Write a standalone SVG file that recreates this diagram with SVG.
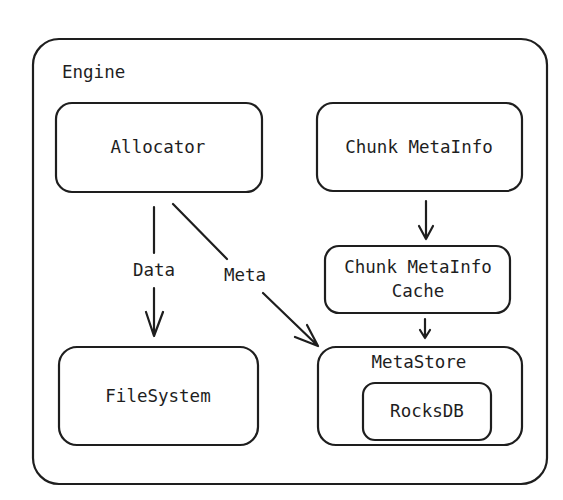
<svg xmlns="http://www.w3.org/2000/svg" width="563" height="500" viewBox="0 0 563 500">
<style>
.box{fill:none;stroke:#1e1e1e;stroke-width:2.2}
.t{font-family:"DejaVu Sans Mono","Liberation Mono",monospace;font-size:17.5px;fill:#1e1e1e;text-anchor:middle}
.ln{fill:none;stroke:#1e1e1e;stroke-width:2.2;stroke-linecap:round;stroke-linejoin:round}
</style>
<rect width="563" height="500" fill="#ffffff"/>
<g id="engine">
<rect class="box" x="33" y="39" width="514" height="445" rx="26"/>
<text class="t" x="62" y="78" style="text-anchor:start">Engine</text>
</g>
<g id="allocator">
<rect class="box" x="56" y="103" width="206" height="89" rx="16"/>
<text class="t" x="158" y="153">Allocator</text>
</g>
<g id="chunk-metainfo">
<rect class="box" x="317" y="103" width="205" height="88" rx="16"/>
<text class="t" x="419" y="153">Chunk MetaInfo</text>
</g>
<g id="chunk-metainfo-cache">
<rect class="box" x="325" y="246" width="185" height="67" rx="14"/>
<text class="t" x="418" y="273">Chunk MetaInfo</text>
<text class="t" x="418" y="297">Cache</text>
</g>
<g id="filesystem">
<rect class="box" x="59" y="347" width="199" height="98" rx="18"/>
<text class="t" x="158" y="402">FileSystem</text>
</g>
<g id="metastore">
<rect class="box" x="318" y="347" width="204" height="98" rx="18"/>
<text class="t" x="419" y="368">MetaStore</text>
</g>
<g id="rocksdb">
<rect class="box" x="363" y="383" width="128" height="57" rx="12"/>
<text class="t" x="427" y="417">RocksDB</text>
</g>
<g id="connectors">
<path class="ln" d="M426 201 L426 239 M419 226 L426 239 L433 226"/>
<path class="ln" d="M425 319 L425 338 M420 330 L425 338 L430 330"/>
<path class="ln" d="M154 207 L154 253 M154 288 L154 336 M146 312 L154 336 L163 312"/>
<text class="t" x="154" y="276">Data</text>
<path class="ln" d="M173 204 L227 259 M263 293 L318 346 M295 337 L318 346 L307 325"/>
<text class="t" x="245" y="281">Meta</text>
</g>
</svg>
